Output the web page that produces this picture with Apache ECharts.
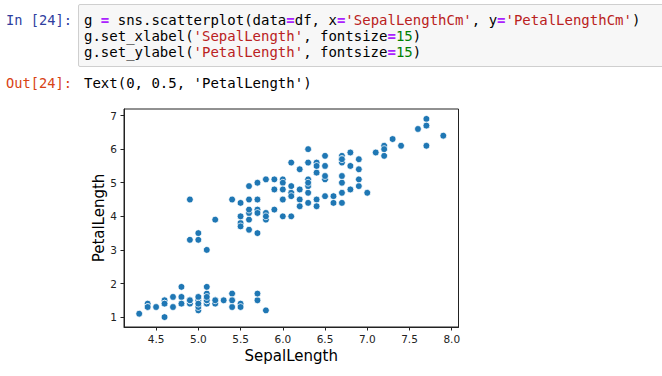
<!DOCTYPE html>
<html>
<head>
<meta charset="utf-8">
<script src="https://cdn.jsdelivr.net/npm/echarts@6/dist/echarts.min.js"></script>
<style>
  html, body { margin: 0; padding: 0; background: #fff; }
  #wrap { position: relative; width: 662px; height: 376px; overflow: hidden; }
  #chart { position: absolute; left: 0; top: 0; width: 662px; height: 376px; }
  .line { font-family: "DejaVu Sans Mono", "Liberation Mono", monospace; font-size: 14px; line-height: 16px; height: 16px; white-space: pre; position: absolute; color: #000; }
  .prompt { font-size: 13.7px; }
  #cell { position: absolute; left: 78px; top: 4px; width: 600px; height: 61px; background: #f7f7f7; border: 1px solid #cfcfcf; border-radius: 2px; }
  .kw { color: #aa22ff; font-weight: bold; }
  .st { color: #ba2121; }
  .nu { color: #008000; }
</style>
</head>
<body>
<div id="wrap">
  <div id="chart"></div>
  <div id="cell"></div>
  <div class="line prompt" style="left:6px; top:12px;"><span style="color:#303f9f;">In [24]:</span></div>
  <div class="line" style="left:84px; top:12px;"><span>g </span><span class="kw">=</span><span> sns.scatterplot(data</span><span class="kw">=</span><span>df, x</span><span class="kw">=</span><span class="st">'SepalLengthCm'</span><span>, y</span><span class="kw">=</span><span class="st">'PetalLengthCm'</span><span>)</span></div>
  <div class="line" style="left:84px; top:28px;"><span>g.set_xlabel(</span><span class="st">'SepalLength'</span><span>, fontsize</span><span class="kw">=</span><span class="nu">15</span><span>)</span></div>
  <div class="line" style="left:84px; top:44px;"><span>g.set_ylabel(</span><span class="st">'PetalLength'</span><span>, fontsize</span><span class="kw">=</span><span class="nu">15</span><span>)</span></div>
  <div class="line prompt" style="left:6px; top:75px;"><span style="color:#d84315;">Out[24]:</span></div>
  <div class="line" style="left:84px; top:75px;"><span>Text(0, 0.5, 'PetalLength')</span></div>
</div>
<script>
// Iris: SepalLengthCm and PetalLengthCm
const sepalLength = [
  5.1,4.9,4.7,4.6,5.0,5.4,4.6,5.0,4.4,4.9,5.4,4.8,4.8,4.3,5.8,5.7,5.4,5.1,5.7,5.1,
  5.4,5.1,4.6,5.1,4.8,5.0,5.0,5.2,5.2,4.7,4.8,5.4,5.2,5.5,4.9,5.0,5.5,4.9,4.4,5.1,
  5.0,4.5,4.4,5.0,5.1,4.8,5.1,4.6,5.3,5.0,
  7.0,6.4,6.9,5.5,6.5,5.7,6.3,4.9,6.6,5.2,5.0,5.9,6.0,6.1,5.6,6.7,5.6,5.8,6.2,5.6,
  5.9,6.1,6.3,6.1,6.4,6.6,6.8,6.7,6.0,5.7,5.5,5.5,5.8,6.0,5.4,6.0,6.7,6.3,5.6,5.5,
  5.5,6.1,5.8,5.0,5.6,5.7,5.7,6.2,5.1,5.7,
  6.3,5.8,7.1,6.3,6.5,7.6,4.9,7.3,6.7,7.2,6.5,6.4,6.8,5.7,5.8,6.4,6.5,7.7,7.7,6.0,
  6.9,5.6,7.7,6.3,6.7,7.2,6.2,6.1,6.4,7.2,7.4,7.9,6.4,6.3,6.1,7.7,6.3,6.4,6.0,6.9,
  6.7,6.9,5.8,6.8,6.7,6.7,6.3,6.5,6.2,5.9
];
const petalLength = [
  1.4,1.4,1.3,1.5,1.4,1.7,1.4,1.5,1.4,1.5,1.5,1.6,1.4,1.1,1.2,1.5,1.3,1.4,1.7,1.5,
  1.7,1.5,1.0,1.7,1.9,1.6,1.6,1.5,1.4,1.6,1.6,1.5,1.5,1.4,1.5,1.2,1.3,1.5,1.3,1.5,
  1.3,1.3,1.3,1.6,1.9,1.4,1.6,1.4,1.5,1.4,
  4.7,4.5,4.9,4.0,4.6,4.5,4.7,3.3,4.6,3.9,3.5,4.2,4.0,4.7,3.6,4.4,4.5,4.1,4.5,3.9,
  4.8,4.0,4.9,4.7,4.3,4.4,4.8,5.0,4.5,3.5,3.8,3.7,3.9,5.1,4.5,4.5,4.7,4.4,4.1,4.0,
  4.4,4.6,4.0,3.3,4.2,4.2,4.2,4.3,3.0,4.1,
  6.0,5.1,5.9,5.6,5.8,6.6,4.5,6.3,5.8,6.1,5.1,5.3,5.5,5.0,5.1,5.3,5.5,6.7,6.9,5.0,
  5.7,4.9,6.7,4.9,5.7,6.0,4.8,4.9,5.6,5.8,6.1,6.4,5.6,5.1,5.6,6.1,5.6,5.5,4.8,5.4,
  5.6,5.1,5.1,5.9,5.7,5.2,5.0,5.2,5.4,5.1
];
const xTicks = [4.5, 5.0, 5.5, 6.0, 6.5, 7.0, 7.5, 8.0];
const yTicks = [1, 2, 3, 4, 5, 6, 7];
const xLabel = 'SepalLength';
const yLabel = 'PetalLength';

const points = sepalLength.map((v, i) => [v, petalLength[i]]);
const chart = echarts.init(document.getElementById('chart'), null, { renderer: 'svg' });
const axisCommon = {
  axisLine: { show: true, onZero: false, lineStyle: { color: '#222', width: 1 } },
  axisTick: { show: true, length: 3.5, lineStyle: { color: '#222', width: 1 } },
  splitLine: { show: false },
  nameLocation: 'middle',
  nameMoveOverlap: false,
  nameTextStyle: { fontFamily: 'DejaVu Sans', fontSize: 15, color: '#000' }
};
chart.setOption({
  backgroundColor: '#fff',
  animation: false,
  grid: { left: 124, top: 109, width: 334.5, height: 218, show: true, borderColor: '#222', borderWidth: 1, backgroundColor: 'transparent' },
  xAxis: Object.assign({}, axisCommon, {
    type: 'value', min: 4.12, max: 8.08,
    name: xLabel, nameGap: 21,
    axisTick: Object.assign({}, axisCommon.axisTick, { customValues: xTicks }),
    axisLabel: { customValues: xTicks, formatter: v => v.toFixed(1), fontFamily: 'DejaVu Sans', fontSize: 10.5, color: '#222', margin: 6 }
  }),
  yAxis: Object.assign({}, axisCommon, {
    type: 'value', min: 0.705, max: 7.195,
    name: yLabel, nameGap: 18,
    axisTick: Object.assign({}, axisCommon.axisTick, { customValues: yTicks }),
    axisLabel: { customValues: yTicks, formatter: v => String(v), fontFamily: 'DejaVu Sans', fontSize: 10.5, color: '#222', margin: 7 }
  }),
  series: [{
    type: 'scatter',
    data: points,
    symbol: 'circle',
    symbolSize: 6.8,
    itemStyle: { color: '#1f77b4', borderColor: '#fff', borderWidth: 0.75, opacity: 1 }
  }]
});
</script>
</body>
</html>
